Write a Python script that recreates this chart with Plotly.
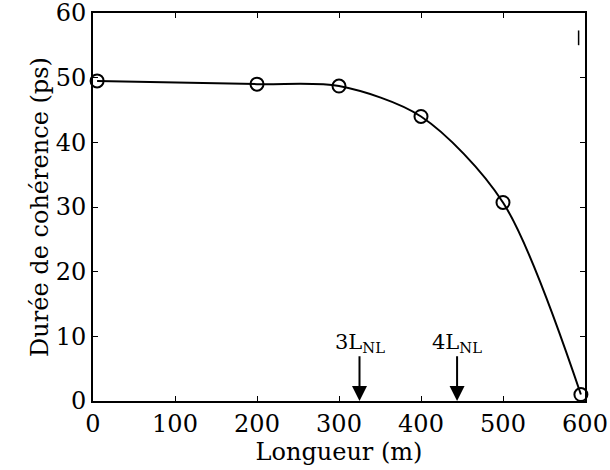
import plotly.graph_objects as go

# Coherence time versus fibre length
longueur_m = [5, 200, 300, 400, 500, 595]
duree_ps = [49.5, 49.0, 48.7, 44.0, 30.7, 1.0]

# Multiples of the nonlinear length marked on the axis
repere_x = [325, 444]
repere_txt = ["3L<sub>NL</sub>", "4L<sub>NL</sub>"]

x_ticks = [0, 100, 200, 300, 400, 500, 600]
y_ticks = [0, 10, 20, 30, 40, 50, 60]

FONT = "DejaVu Serif"

fig = go.Figure()
fig.add_trace(go.Scatter(
    x=longueur_m, y=duree_ps, mode="lines",
    line=dict(color="black", width=2, shape="spline", smoothing=0.85),
    hoverinfo="skip", cliponaxis=False,
))
fig.add_trace(go.Scatter(
    x=longueur_m, y=duree_ps, mode="markers",
    marker=dict(symbol="circle-open", size=13, color="black",
                line=dict(color="black", width=2)),
    cliponaxis=False,
))

# labelled arrows pointing down to the length axis
for xv, txt in zip(repere_x, repere_txt):
    fig.add_annotation(x=xv, y=0, ax=xv, ay=9.0, xref="x", yref="y",
                       axref="x", ayref="y", text=txt, showarrow=True,
                       arrowhead=2, arrowsize=1.5, arrowwidth=2,
                       arrowcolor="black", standoff=0, borderpad=0,
                       font=dict(family=FONT, size=21, color="black"))

# short stray stroke in the upper-right corner
fig.add_shape(type="line", x0=0.987, x1=0.987, y0=0.955, y1=0.917,
              xref="paper", yref="paper", line=dict(color="black", width=1.5))

axis_common = dict(
    showgrid=False, zeroline=False, showline=True, linecolor="black",
    linewidth=2, mirror="ticks", ticks="inside", ticklen=5, tickwidth=1,
    tickcolor="black", tickfont=dict(family=FONT, size=24, color="black"),
    ticklabeloverflow="allow", automargin=False,
)

fig.update_layout(
    width=610, height=470,
    margin=dict(l=93, r=25, t=13, b=69),
    paper_bgcolor="white", plot_bgcolor="white",
    showlegend=False,
    xaxis=dict(range=[0, 600], tickvals=x_ticks,
               title=dict(text="Longueur (m)", standoff=0,
                          font=dict(family=FONT, size=24, color="black")),
               **axis_common),
    yaxis=dict(range=[0, 60], tickvals=y_ticks,
               title=dict(text="Durée de cohérence (ps)", standoff=0,
                          font=dict(family=FONT, size=24, color="black")),
               **axis_common),
)

fig.write_html("out.html")
